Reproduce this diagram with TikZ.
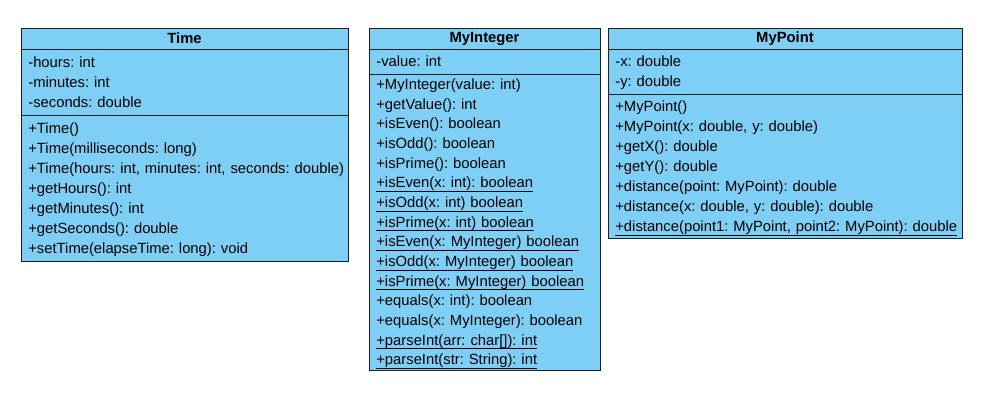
\documentclass[tikz,border=0pt]{standalone}
\usepackage{fontspec}
\setmainfont{Liberation Sans}
\usetikzlibrary{positioning}
\definecolor{classfill}{HTML}{7ECFF5}
\definecolor{classline}{HTML}{1E1E1E}
\newcommand{\static}[1]{\leavevmode\setbox0\hbox{#1}\rlap{\rule[-3.2pt]{\wd0}{0.75pt}}\box0}
\newcommand{\topstrut}{\rule{0pt}{11.5pt}}
\newcommand{\botstrut}{\rule[-3.5pt]{0pt}{3.5pt}}
\newcommand{\bigbotstrut}{\rule[-4.5pt]{0pt}{4.5pt}}
\tikzstyle{cls}=[draw=classline, fill=classfill, line width=0.75pt, outer sep=0pt, inner xsep=5.5pt, inner ysep=0pt, font=\fontsize{11.1}{15}\selectfont\frenchspacing]
\tikzstyle{clstitle}=[cls, minimum height=15.75pt, align=center, font=\fontsize{11.1}{15}\selectfont\bfseries]
\tikzstyle{clsbody}=[cls, align=left, execute at begin node=\topstrut, execute at end node=\botstrut]

\begin{document}
\begin{tikzpicture}[x=0.75pt,y=-0.75pt]
\useasboundingbox (0,0) rectangle (995,411);

% Time
\node[clstitle, text width=234.25pt, anchor=north west] at (21,28) (timeTitle) {Time};
\node[clsbody, text width=234.25pt, minimum height=49.5pt, below=0pt of timeTitle] (timeAttr)
  {-hours: int\\-minutes: int\\-seconds: double};
\node[clsbody, text width=234.25pt, minimum height=109.5pt, below=0pt of timeAttr] (timeOps)
  {+Time()\\
   +Time(milliseconds: long)\\
   \mbox{+Time(hours: int, minutes: int, seconds: double)}\\
   +getHours(): int\\
   +getMinutes(): int\\
   +getSeconds(): double\\
   +setTime(elapseTime: long): void};

% MyInteger
\node[clstitle, text width=162.25pt, anchor=north west] at (369,28) (intTitle) {MyInteger};
\node[clsbody, text width=162.25pt, minimum height=18.75pt, below=0pt of intTitle] (intAttr)
  {-value: int};
\node[clsbody, text width=162.25pt, minimum height=221.25pt, below=0pt of intAttr,
      font=\fontsize{11.1}{14.75}\selectfont\frenchspacing,
      execute at begin node={\rule{0pt}{10.5pt}},
      execute at end node=\bigbotstrut] (intOps)
  {+MyInteger(value: int)\\
   +getValue(): int\\
   +isEven(): boolean\\
   +isOdd(): boolean\\
   +isPrime(): boolean\\
   \static{+isEven(x: int): boolean}\\
   \static{+isOdd(x: int) boolean}\\
   \static{+isPrime(x: int) boolean}\\
   \static{+isEven(x: MyInteger) boolean}\\
   \static{+isOdd(x: MyInteger) boolean}\\
   \static{+isPrime(x: MyInteger) boolean}\\
   +equals(x: int): boolean\\
   +equals(x: MyInteger): boolean\\
   \static{+parseInt(arr: char[]): int}\\
   \static{+parseInt(str: String): int}};

% MyPoint
\node[clstitle, text width=254.5pt, anchor=north west] at (608,28) (ptTitle) {MyPoint};
\node[clsbody, text width=254.5pt, minimum height=33.75pt, below=0pt of ptTitle] (ptAttr)
  {-x: double\\-y: double};
\node[clsbody, text width=254.5pt, minimum height=108pt, below=0pt of ptAttr] (ptOps)
  {+MyPoint()\\
   +MyPoint(x: double, y: double)\\
   +getX(): double\\
   +getY(): double\\
   +distance(point: MyPoint): double\\
   +distance(x: double, y: double): double\\
   \static{+distance(point1: MyPoint, point2: MyPoint): double}};
\end{tikzpicture}
\end{document}
